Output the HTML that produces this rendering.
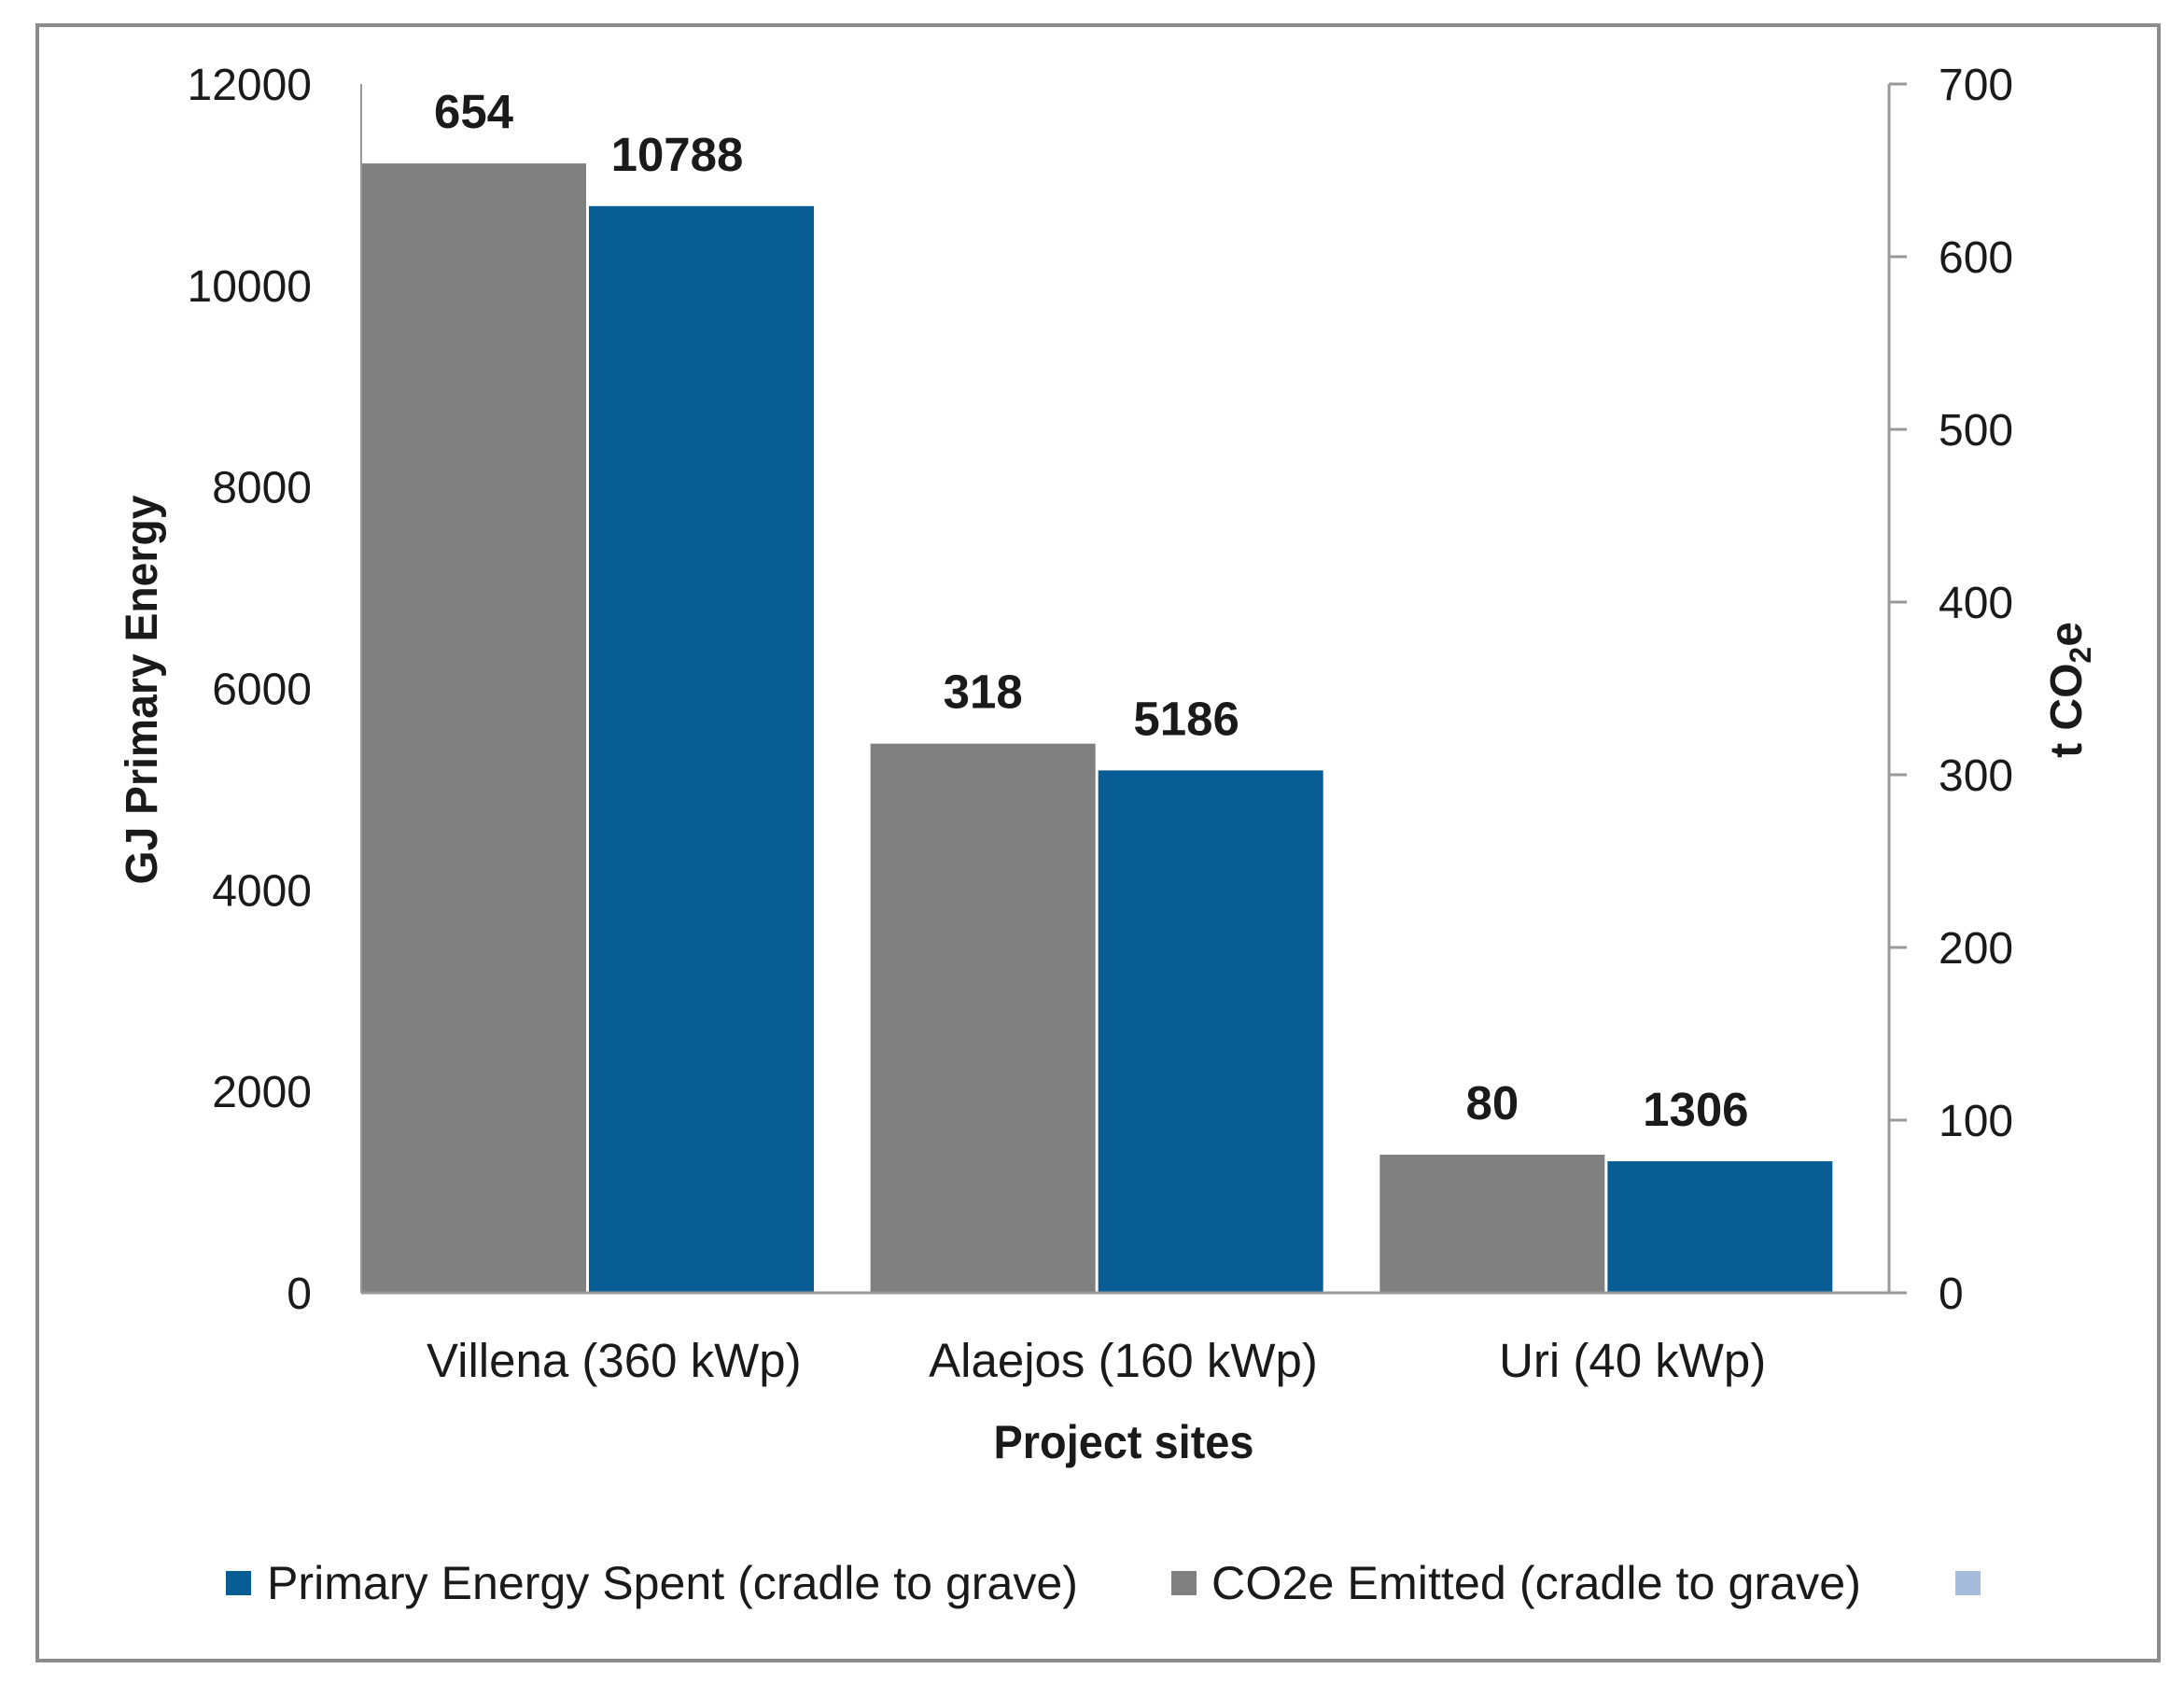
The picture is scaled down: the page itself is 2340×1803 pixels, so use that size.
<!DOCTYPE html>
<html><head><meta charset="utf-8"><style>
html,body{margin:0;padding:0;background:#fff;}
svg{display:block;}
text{font-family:"Liberation Sans",sans-serif;fill:#1a1a1a;}
</style></head><body>
<svg id="chart" width="2340" height="1803" viewBox="0 0 2340 1803" xmlns="http://www.w3.org/2000/svg">
<rect x="40" y="27" width="2273" height="1752" fill="#fff" stroke="#8c8c8c" stroke-width="4"/>
<g id="bars"></g>
<g id="axes"></g>
<text x="1204" y="1562" font-size="50" font-weight="bold" text-anchor="middle" textLength="279" lengthAdjust="spacingAndGlyphs">Project sites</text>
<text transform="translate(168,739) rotate(-90)" font-size="48" font-weight="bold" text-anchor="middle" textLength="417" lengthAdjust="spacingAndGlyphs">GJ Primary Energy</text>
<text transform="translate(2230,739) rotate(-90)" font-size="48" font-weight="bold" text-anchor="middle">t CO<tspan font-size="32" dy="10">2</tspan><tspan dy="-10">e</tspan></text>
<g>
<rect x="242" y="1683" width="27" height="26" fill="#085e94"/>
<text x="286" y="1713" font-size="50" textLength="869" lengthAdjust="spacingAndGlyphs">Primary Energy Spent (cradle to grave)</text>
<rect x="1255" y="1683" width="27" height="26" fill="#808080"/>
<text x="1298" y="1713" font-size="50" textLength="696" lengthAdjust="spacingAndGlyphs">CO2e Emitted (cradle to grave)</text>
<rect x="2095" y="1683" width="27" height="26" fill="#a5bcdc"/>
</g>
</svg>
<script>
const categories = ["Villena (360 kWp)", "Alaejos (160 kWp)", "Uri (40 kWp)"];
const energyValues = [10788, 5186, 1306];
const co2Values = [654, 318, 80];
const leftTicks = [0, 2000, 4000, 6000, 8000, 10000, 12000];
const rightTicks = [0, 100, 200, 300, 400, 500, 600, 700];

const NS = "http://www.w3.org/2000/svg";
const X0 = 387, X1 = 2024, YB = 1385, YT = 90;
const leftMax = 12000, rightMax = 700;
const yLeft = v => YB - v / leftMax * (YB - YT);
const yRight = v => YB - v / rightMax * (YB - YT);
const catW = (X1 - X0) / categories.length;
const xCat = i => X0 + i * catW;
const barW = 241;

function mk(tag, attrs, parent) {
  const e = document.createElementNS(NS, tag);
  for (const k in attrs) e.setAttribute(k, attrs[k]);
  parent.appendChild(e);
  return e;
}
const bars = document.getElementById("bars");
const axes = document.getElementById("axes");

categories.forEach((c, i) => {
  const gx = xCat(i);
  const gy = yRight(co2Values[i]);
  const g = mk("rect", {x: gx, y: gy, width: barW, height: YB - gy, fill: "#808080"}, bars);
  
  
  const bx = gx + 244;
  const by = yLeft(energyValues[i]);
  const b = mk("rect", {x: bx, y: by, width: barW, height: YB - by, fill: "#085e94"}, bars);
  
  
  const l1 = mk("text", {x: gx + barW / 2, y: gy - 38, "font-size": 51, "font-weight": "bold", "text-anchor": "middle"}, bars);
  l1.textContent = co2Values[i];
  
  
  const l2 = mk("text", {x: bx + barW / 2 - 26, y: by - 38, "font-size": 51, "font-weight": "bold", "text-anchor": "middle"}, bars);
  l2.textContent = energyValues[i];
  
  
  const cl = mk("text", {x: gx + catW / 2 - 2, y: 1475, "font-size": 51, "text-anchor": "middle"}, axes);
  cl.textContent = c;
  
  
});

const la = mk("line", {x1: X0, y1: YT, x2: X0, y2: YB, stroke: "#999", "stroke-width": 2}, axes);


const ra = mk("line", {x1: X1, y1: YT, x2: X1, y2: YB, stroke: "#999", "stroke-width": 3}, axes);


const xa = mk("line", {x1: X0, y1: YB, x2: X1 + 18, y2: YB, stroke: "#999", "stroke-width": 3}, axes);



leftTicks.forEach(t => {
  const tx = mk("text", {x: 334, y: yLeft(t) + 17, "font-size": 48, "text-anchor": "end"}, axes);
  tx.textContent = t;
  
  
});
rightTicks.forEach(t => {
  const tk = mk("line", {x1: X1, y1: yRight(t), x2: X1 + 19, y2: yRight(t), stroke: "#999", "stroke-width": 3}, axes);
  
  
  const tx = mk("text", {x: 2077, y: yRight(t) + 17, "font-size": 48}, axes);
  tx.textContent = t;
  
  
});
</script>
</body></html>
